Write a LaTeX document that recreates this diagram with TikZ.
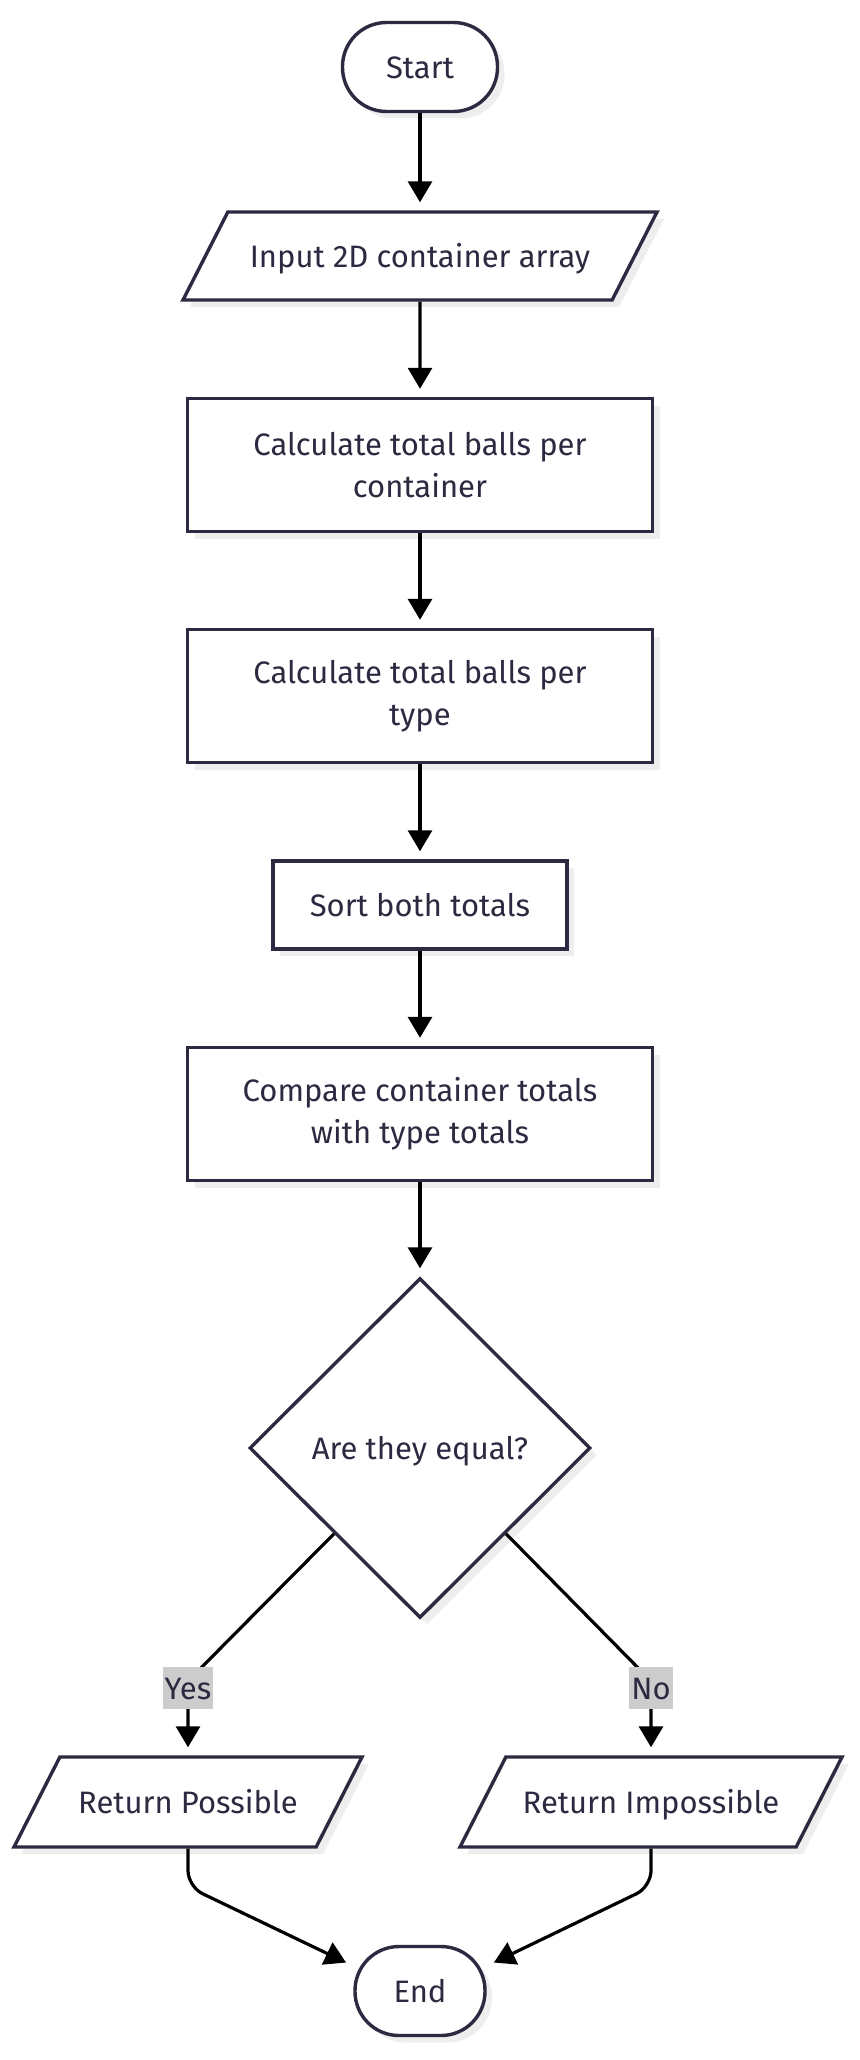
\documentclass[tikz,border=0pt]{standalone}
\usepackage{fontspec}
\setmainfont{Fira Sans}
\usetikzlibrary{shapes.geometric,shadows,arrows.meta,calc}
\definecolor{ink}{HTML}{2B2A40}
\definecolor{shade}{HTML}{EEEEEE}
\definecolor{lblgray}{HTML}{CCCCCC}

\begin{document}
\begin{tikzpicture}[x=1pt,y=-1pt,font=\fontsize{31}{42}\selectfont,text=ink,
  base/.style={draw=ink,line width=3.4pt,fill=white,align=center,inner sep=0pt,
    drop shadow={shadow xshift=7pt,shadow yshift=-7pt,fill=shade,opacity=1}},
  oneline/.style={text height=26pt,text depth=3pt},
  process/.style={base,rectangle,minimum width=465pt,minimum height=133pt},
  term/.style={base,oneline,rectangle,rounded corners=44pt,minimum height=89pt},
  io/.style={base,oneline,trapezium,trapezium left angle=63,trapezium right angle=117,
    trapezium stretches body=true,inner ysep=29.5pt},
  decision/.style={base,oneline,diamond,minimum width=341pt,minimum height=340pt},
  flow/.style={black,line width=3.2pt,-{Triangle[width=24pt,length=21pt]},shorten >=8pt},
  edgelbl/.style={oneline,fill=lblgray,inner xsep=2pt,inner ysep=0pt,minimum height=42pt}]
\useasboundingbox (0,0) rectangle (859,2060);

% boxes
\node[term,minimum width=155pt] (start) at (420,67) {Start};
\node[io,minimum width=474pt] (input) at (420,256) {Input 2D container array};
\node[process] (calcC) at (420,465) {Calculate total balls per\\container};
\node[process] (calcT) at (420,696) {Calculate total balls per\\type};
\node[process,oneline,minimum width=294pt,minimum height=88pt] (sort) at (420,905) {Sort both totals};
\node[process] (comp) at (420,1114) {Compare container totals\\with type totals};
\node[decision] (dec) at (420,1448) {Are they equal?};
\node[io,minimum width=348pt,inner ysep=30.5pt] (retP) at (188,1802) {Return Possible};
\node[io,minimum width=382pt,inner ysep=30.5pt] (retI) at (651,1802) {Return Impossible};
\node[term,minimum width=130pt] (endN) at (420,1991) {End};

% main line
\draw[flow] (start) -- (input);
\draw[flow] (input) -- (calcC);
\draw[flow] (calcC) -- (calcT);
\draw[flow] (calcT) -- (sort);
\draw[flow] (sort) -- (comp);
\draw[flow] (comp) -- (dec);

% yes / no
\coordinate (yesbend) at (188,1681);
\coordinate (nobend) at (651,1681);
\draw[flow] (dec.south west) -- (yesbend) -- (retP.north);
\draw[flow] (dec.south east) -- (nobend) -- (retI.north);
\node[edgelbl] (yes) at (188,1688) {Yes};
\node[edgelbl] (no) at (651,1688) {No};

% to end
\draw[flow,rounded corners=16pt] (retP.south) -- ++(0,38) -- ($(endN.west)+(0,-25)$);
\draw[flow,rounded corners=16pt] (retI.south) -- ++(0,38) -- ($(endN.east)+(0,-25)$);
\end{tikzpicture}
\end{document}
